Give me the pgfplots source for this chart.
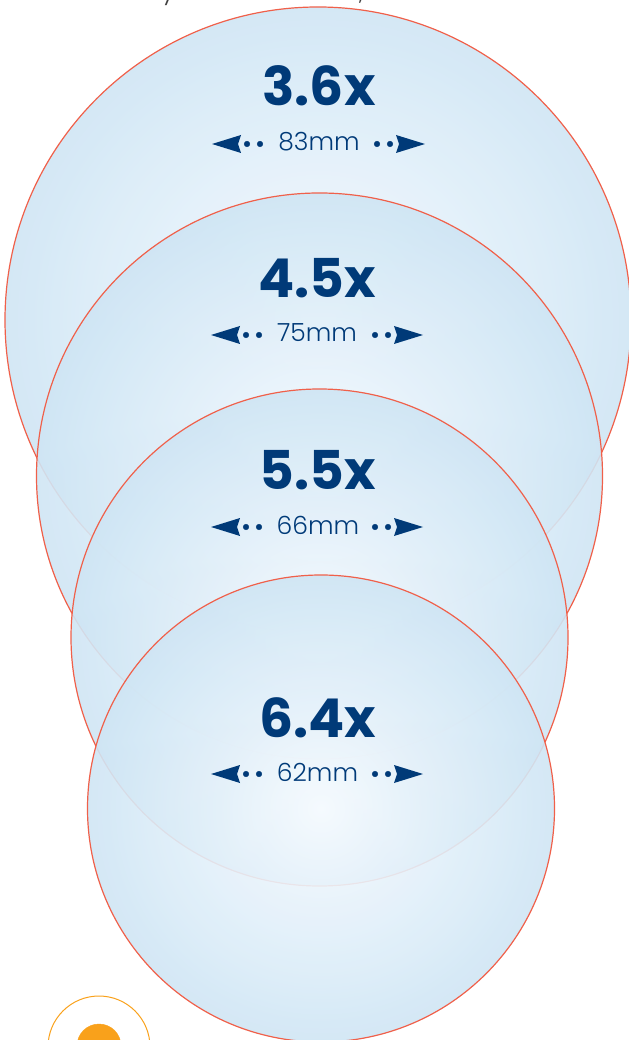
\documentclass[border=0pt]{standalone}
\usepackage{fontspec}
\setmainfont{Poppins}
\newfontfamily\poplight{Poppins Light}
\usepackage{pgfplots}
\pgfplotsset{compat=1.18}
\usetikzlibrary{shadings}
\definecolor{navy}{HTML}{003A78}
\definecolor{circred}{HTML}{F0604A}
\definecolor{orng}{HTML}{F9A11B}
\definecolor{lensa}{HTML}{F8FCFF}
\definecolor{lensb}{HTML}{F1F8FD}
\definecolor{lensc}{HTML}{E5F1FA}
\definecolor{lensd}{HTML}{D5E9F6}
\definecolor{lense}{HTML}{CFE5F4}
\pgfdeclareradialshading{lensshade}{\pgfpointorigin}{%
  color(0bp)=(lensa);
  color(4bp)=(lensb);
  color(11bp)=(lensc);
  color(21bp)=(lensd);
  color(25bp)=(lense);
  color(100bp)=(lense)}
\pgfdeclareplotmark{lens}{%
  \pgfsetfillopacity{0.90}%
  \pgfpathcircle{\pgfpointorigin}{\pgfplotmarksize}%
  \pgfshadepath{lensshade}{0}%
  \pgfsetstrokecolor{circred}%
  \pgfsetlinewidth{1.2bp}%
  \pgfusepathqstroke
}
\pgfplotsset{
  lens/.style={only marks,mark=lens,mark size=#1},
  ahead/.style={fill=navy,draw=none,forget plot},
  dots/.style={only marks,mark=*,mark size=2.8bp,mark options={fill=navy,draw=navy,line width=0.4bp}},
  page axis/.style={at={(0,-30bp)},anchor=south west,hide axis,scale only axis,
    width=629bp,height=1070bp,xmin=0,xmax=629,ymin=0,ymax=1070,y dir=reverse,clip mode=global},
}
\tikzset{
  big/.style={anchor=base,text=navy,inner sep=0pt,font=\fontsize{53.5bp}{56bp}\selectfont\bfseries},
  small/.style={anchor=base,text=navy,inner sep=0pt,font=\fontsize{25bp}{27bp}\poplight},
}
\begin{document}
\begin{tikzpicture}[x=1bp,y=1bp]
\useasboundingbox (0,0) rectangle (629,1040);
\begin{axis}[page axis]
% lenses
\addplot[lens=313bp] coordinates {(318,320)};
\addplot[lens=283bp] coordinates {(319.5,476)};
\addplot[lens=248.5bp] coordinates {(319.5,637.5)};
\addplot[lens=233.5bp] coordinates {(321,808.5)};
\end{axis}
\begin{axis}[page axis]
% cropped title remnants
\node[anchor=base,inner sep=0pt,text=black!75,font=\fontsize{20bp}{22bp}\selectfont] at (axis cs:168,1) {y};
\node[anchor=base,inner sep=0pt,text=black!75,font=\fontsize{20bp}{22bp}\selectfont] at (axis cs:361,1) {,};
% orange icon
\addplot[only marks,mark=o,mark size=51bp,mark options={draw=orng,line width=1bp}] coordinates {(99,1047)};
\addplot[only marks,mark=*,mark size=22bp,mark options={fill=orng,draw=orng,line width=0.4bp}] coordinates {(99,1046)};
\addplot[draw=black!75,line width=0.8bp] coordinates {(99.5,1034)(98.5,1040)};
% row 3.6x
\addplot[ahead] coordinates {(212,144)(241,135)(238,144)(241,153)} -- cycle;
\addplot[ahead] coordinates {(425,144)(396,135)(399,144)(396,153)} -- cycle;
\addplot[dots] coordinates {(247,144)(260,144)(377,144)(390,144)};
% row 4.5x
\addplot[ahead] coordinates {(211,335)(240,326)(237,335)(240,344)} -- cycle;
\addplot[ahead] coordinates {(423,335)(394,326)(397,335)(394,344)} -- cycle;
\addplot[dots] coordinates {(246,335)(259,335)(375,335)(388,335)};
% row 5.5x
\addplot[ahead] coordinates {(211,527)(240,518)(237,527)(240,536)} -- cycle;
\addplot[ahead] coordinates {(423,527)(394,518)(397,527)(394,536)} -- cycle;
\addplot[dots] coordinates {(246,527)(259,527)(375,527)(388,527)};
% row 6.4x
\addplot[ahead] coordinates {(211,774)(240,765)(237,774)(240,783)} -- cycle;
\addplot[ahead] coordinates {(423,774)(394,765)(397,774)(394,783)} -- cycle;
\addplot[dots] coordinates {(246,774)(259,774)(375,774)(388,774)};
% text
\node[big] at (axis cs:319,106) {3.6x};
\node[small] at (axis cs:319,151) {83mm};
\node[big] at (axis cs:317,298) {4.5x};
\node[small] at (axis cs:317,342) {75mm};
\node[big] at (axis cs:318,490) {5.5x};
\node[small] at (axis cs:318,534) {66mm};
\node[big] at (axis cs:317.5,737) {6.4x};
\node[small] at (axis cs:317.5,781) {62mm};
\end{axis}
\end{tikzpicture}
\end{document}
